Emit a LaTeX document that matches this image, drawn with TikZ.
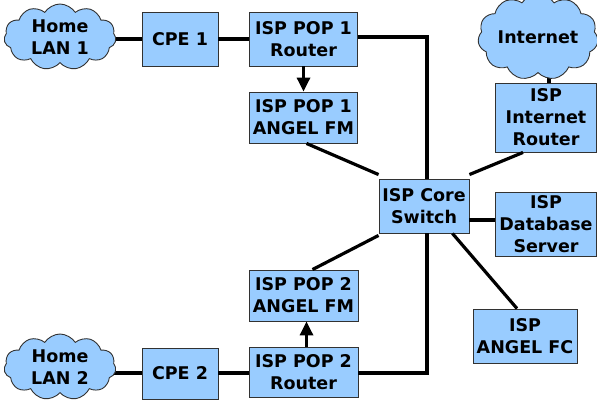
\documentclass[tikz,border=0pt]{standalone}
\usepackage{fontspec}
\setmainfont{DejaVu Sans}
\usetikzlibrary{shapes.symbols,arrows.meta,backgrounds}
\definecolor{boxfill}{RGB}{153,204,255}
\definecolor{boxline}{RGB}{50,50,50}
\tikzset{
  box/.style={draw=boxline, line width=0.9pt, fill=boxfill, inner sep=0pt, align=center,
    font=\fontsize{17.5}{22}\selectfont\bfseries},
  cloudbox/.style={cloud, cloud puffs=11, cloud puff arc=115, aspect=1.6, draw=boxline, line width=0.9pt,
    fill=boxfill, inner sep=0pt, align=center, font=\fontsize{17.5}{22}\selectfont\bfseries},
  link/.style={line width=3.2pt, black},
  arr/.style={line width=3.2pt, black, -{Triangle[length=14pt,width=13pt]}}
}
\begin{document}
\begin{tikzpicture}[x=1pt,y=-1pt]
\useasboundingbox (0,0) rectangle (597,407);
% clouds
\node[cloudbox, minimum width=112pt, minimum height=66pt] (lan1) at (60,37) {Home\\LAN 1};
\node[cloudbox, minimum width=112pt, minimum height=66pt] (lan2) at (60,367) {Home\\LAN 2};
\node[cloudbox, minimum width=104pt, minimum height=66pt] (inet) at (538,37) {Internet};
% boxes
\node[box, minimum width=76pt, minimum height=54pt] (cpe1) at (180,39) {CPE 1};
\node[box, minimum width=108pt, minimum height=54pt] (r1) at (303.5,39) {ISP POP 1\\Router};
\node[box, minimum width=108pt, minimum height=51pt] (fm1) at (303.5,117.5) {ISP POP 1\\ANGEL FM};
\node[box, minimum width=90pt, minimum height=54pt] (core) at (424,206) {ISP Core\\Switch};
\node[box, minimum width=101pt, minimum height=69pt] (ir) at (546,117.5) {ISP\\Internet\\Router};
\node[box, minimum width=101pt, minimum height=64pt] (db) at (546,224) {ISP\\Database\\Server};
\node[box, minimum width=104pt, minimum height=54pt] (fc) at (525,336) {ISP\\ANGEL FC};
\node[box, minimum width=109pt, minimum height=51pt] (fm2) at (303.5,295.5) {ISP POP 2\\ANGEL FM};
\node[box, minimum width=109pt, minimum height=50pt] (r2) at (303.5,372) {ISP POP 2\\Router};
\node[box, minimum width=76pt, minimum height=51pt] (cpe2) at (180,373.5) {CPE 2};
% connectors
\coordinate (c1) at (427,37);
\coordinate (c2) at (427,373);
\begin{pgfonlayer}{background}
\draw[link] (lan1.center |- 0,39) -- (cpe1.west |- 0,39);
\draw[link] (lan2.center |- c2) -- (cpe2.west |- c2);
\draw[link] (inet.center -| 549,0) -- (ir.north -| 549,0);
\end{pgfonlayer}
\draw[link] (cpe1.east |- 0,39) -- (r1.west |- 0,39);
\draw[link] (r1.east |- c1) -- (c1) -- (core.north -| c1);
\draw[arr] (r1.south) -- (fm1.north);
\draw[link] ([xshift=3pt]fm1.south) -- ([yshift=4pt]core.north west);
\draw[link] ([xshift=-23pt]ir.south) -- ([yshift=4pt]core.north east);
\draw[link] (core.east |- 0,220) -- (db.west |- 0,220);
\draw[link] ([xshift=-17pt]core.south east) -- ([xshift=-8pt]fc.north);
\draw[link] ([yshift=-2pt]core.south west) -- ([xshift=9pt]fm2.north);
\draw[link] (core.south -| c2) -- (c2) -- (r2.east |- c2);
\draw[arr] ([xshift=3pt]r2.north) -- ([xshift=3pt]fm2.south);
\draw[link] (cpe2.east |- c2) -- (r2.west |- c2);
\end{tikzpicture}
\end{document}
